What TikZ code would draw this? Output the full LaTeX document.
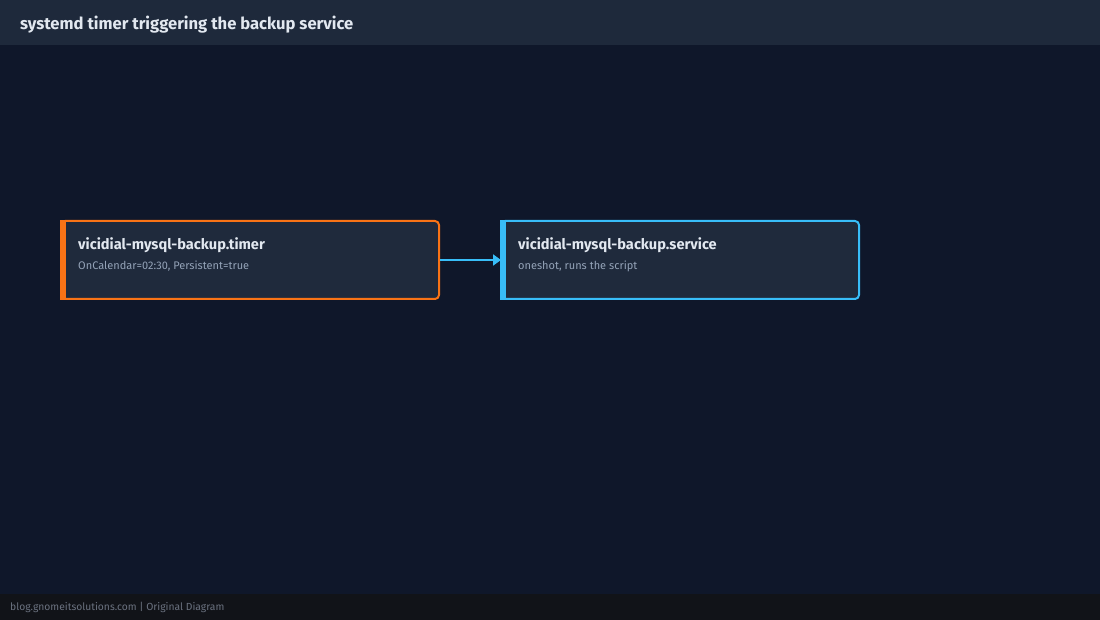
\documentclass[tikz,border=0pt]{standalone}
\usepackage{fontspec}
\setmainfont{Fira Sans}
\usetikzlibrary{arrows.meta}
\definecolor{bgcol}{HTML}{0F172A}
\definecolor{headcol}{HTML}{1E293B}
\definecolor{footcol}{HTML}{111318}
\definecolor{boxcol}{HTML}{1F2A3C}
\definecolor{timercol}{HTML}{F97316}
\definecolor{servcol}{HTML}{38BDF8}
\definecolor{titlecol}{HTML}{E2E8F0}
\definecolor{subcol}{HTML}{94A3B8}
\definecolor{foottext}{HTML}{6B7280}
\begin{document}
\begin{tikzpicture}[x=1pt,y=-1pt]
	\tikzset{unit/.style={draw=#1, line width=2pt, fill=boxcol, rounded corners=4pt},
		bar/.style={fill=#1},
		title/.style={anchor=base west, text=titlecol, font=\bfseries\fontsize{14.6}{17}\selectfont, inner sep=0},
		sub/.style={anchor=base west, text=subcol, font=\fontsize{11}{13}\selectfont, inner sep=0},
		flow/.style={-{Triangle[length=8pt,width=11pt]}, servcol, line width=2pt, shorten >=-1pt}}
	% background
	\fill [bgcol] (0,0) rectangle (1100,620);
	\fill [headcol] (0,0) rectangle (1100,45);
	\fill [footcol] (0,594) rectangle (1100,620);
	\node [anchor=base west, inner sep=0, text=titlecol, font=\bfseries\fontsize{16.6}{19}\selectfont] (head) at (20,30) {systemd timer triggering the backup service};
	\node [anchor=base west, inner sep=0, text=foottext, font=\fontsize{10.3}{12}\selectfont] (foot) at (10,610) {blog.gnomeitsolutions.com | Original Diagram};

	% timer
	\draw [unit=timercol] (61,221) rectangle (439,299);
	\fill [bar=timercol] (60,220) rectangle (66,300);
	\node [title] (timer) at (78,250) {vicidial-mysql-backup.timer};
	\node [sub] (timersub) at (78,270) {OnCalendar=02:30, Persistent=true};
	\coordinate (timerout) at (440,260);

	% service
	\draw [unit=servcol] (501,221) rectangle (859,299);
	\fill [bar=servcol] (500,220) rectangle (506,300);
	\node [title] (service) at (518,250) {vicidial-mysql-backup.service};
	\node [sub] (servicesub) at (518,270) {oneshot, runs the script};
	\coordinate (servicein) at (500,260);

	\draw [flow] (timerout) -- (servicein);
\end{tikzpicture}
\end{document}
